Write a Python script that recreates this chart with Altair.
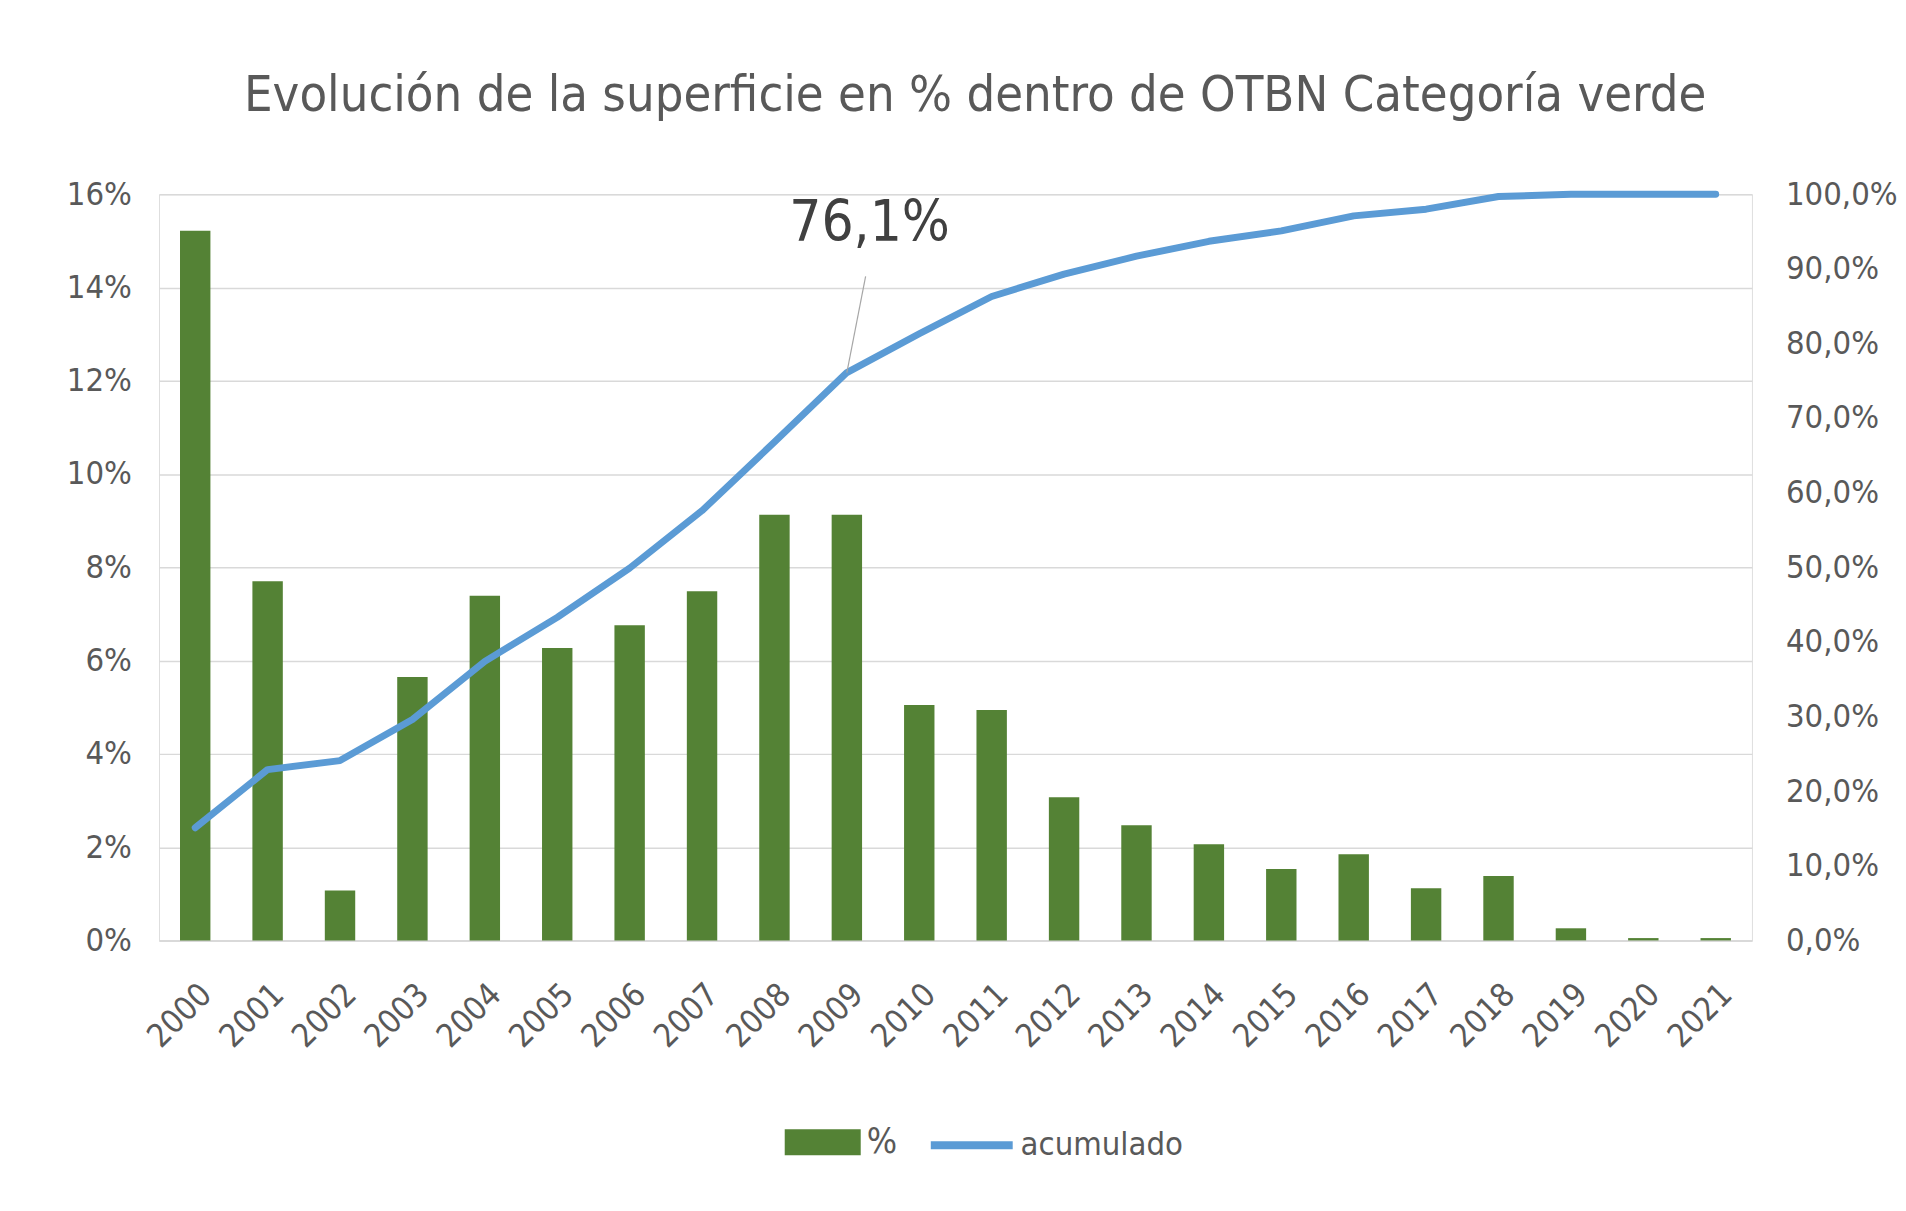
import altair as alt
import pandas as pd

years = ["2000", "2001", "2002", "2003", "2004", "2005", "2006", "2007", "2008", "2009", "2010",
         "2011", "2012", "2013", "2014", "2015", "2016", "2017", "2018", "2019", "2020", "2021"]
pct = [15.22, 7.70, 1.07, 5.65, 7.39, 6.27, 6.76, 7.49, 9.13, 9.13, 5.05,
       4.94, 3.07, 2.47, 2.06, 1.53, 1.85, 1.12, 1.38, 0.26, 0.05, 0.05]
acum = [15.1, 22.9, 24.1, 29.6, 37.4, 43.3, 49.9, 57.6, 66.8, 76.1, 81.3,
        86.3, 89.3, 91.7, 93.7, 95.1, 97.1, 98.0, 99.7, 100.0, 100.0, 100.0]

label_year = ["2009"]
label_value = [76.1]
label_text = ["76,1%"]
leader_top = [89.0]

title_text = "Evolución de la superficie en % dentro de OTBN Categoría verde"
series_names = ["%", "acumulado"]

FONT = "Liberation Sans Narrow, DejaVu Sans Condensed, Lato, sans-serif"
TXT = "#595959"
GREEN = "#548235"
BLUE = "#5B9BD5"
GRID = "#D9D9D9"

df = pd.DataFrame({"year": years, "pct": pct, "acum": acum,
                   "s1": series_names[0], "s2": series_names[1]})
ann = pd.DataFrame({"year": label_year, "acum": label_value, "txt": label_text, "top": leader_top})

x_enc = alt.X("year:N", sort=years, title=None,
              scale=alt.Scale(paddingInner=0.58, paddingOuter=0.29),
              axis=alt.Axis(labelAngle=-45, labelFontSize=33, labelColor=TXT, labelFont=FONT,
                            labelPadding=38, ticks=False, domain=True, domainColor=GRID,
                            domainWidth=2, grid=False))

bars = alt.Chart(df).mark_bar(color=GREEN).encode(
    x=x_enc,
    y=alt.Y("pct:Q", title=None,
            scale=alt.Scale(domain=[0, 16], nice=False),
            axis=alt.Axis(values=[0, 2, 4, 6, 8, 10, 12, 14, 16], labelExpr="datum.value + '%'",
                          labelFontSize=33, labelColor=TXT, labelFont=FONT, labelPadding=28,
                          ticks=False, domain=False, grid=True, gridColor=GRID, gridWidth=1.5)),
    fill=alt.Fill("s1:N", title=None,
                  scale=alt.Scale(domain=[series_names[0]], range=[GREEN]),
                  legend=alt.Legend(orient="none", legendX=634, legendY=922,
                                    symbolType="M-1,-0.34L1,-0.34L1,0.34L-1,0.34Z",
                                    symbolSize=5929, symbolStrokeWidth=0, labelFontSize=36,
                                    labelColor=TXT, labelFont=FONT, labelOffset=6, labelLimit=0)),
)

y_right = alt.Y("acum:Q", title=None,
                scale=alt.Scale(domain=[0, 100], nice=False),
                axis=alt.Axis(orient="right", values=[0, 10, 20, 30, 40, 50, 60, 70, 80, 90, 100],
                              labelExpr="replace(format(datum.value, '.1f'), '.', ',') + '%'",
                              labelFontSize=33, labelColor=TXT, labelFont=FONT, labelPadding=34,
                              ticks=False, domain=False, grid=False))

line = alt.Chart(df).mark_line(strokeWidth=7, strokeCap="round", strokeJoin="round").encode(
    x=alt.X("year:N", sort=years),
    y=y_right,
    stroke=alt.Stroke("s2:N", title=None,
                      scale=alt.Scale(domain=[series_names[1]], range=[BLUE]),
                      legend=alt.Legend(orient="none", legendX=778, legendY=918, symbolType="stroke",
                                        symbolSize=6889, symbolStrokeWidth=8, labelFontSize=33,
                                        labelColor=TXT, labelFont=FONT, labelOffset=4, labelLimit=0)),
)

leader = alt.Chart(ann).mark_rule(color="#A6A6A6", strokeWidth=1.2, x2Offset=19).encode(
    x=alt.X("year:N", sort=years),
    x2="year:N",
    y=y_right,
    y2="top:Q",
)

label = alt.Chart(ann).mark_text(fontSize=57, font=FONT, color="#404040", dx=23, dy=-150).encode(
    x=alt.X("year:N", sort=years),
    y=y_right,
    text="txt:N",
)

chart = alt.layer(bars, alt.layer(line, leader, label)).resolve_scale(
    y="independent", fill="independent", stroke="independent"
).properties(
    width=1614, height=756,
    title=alt.TitleParams(title_text, fontSize=51, font=FONT, color=TXT, fontWeight="normal",
                          anchor="middle", offset=57, dx=20),
    padding={"left": 59, "top": 56, "right": 0, "bottom": 10},
).configure_view(stroke=None).configure(background="white")

chart.save("out.html", embed_options={"renderer": "svg", "actions": False})
